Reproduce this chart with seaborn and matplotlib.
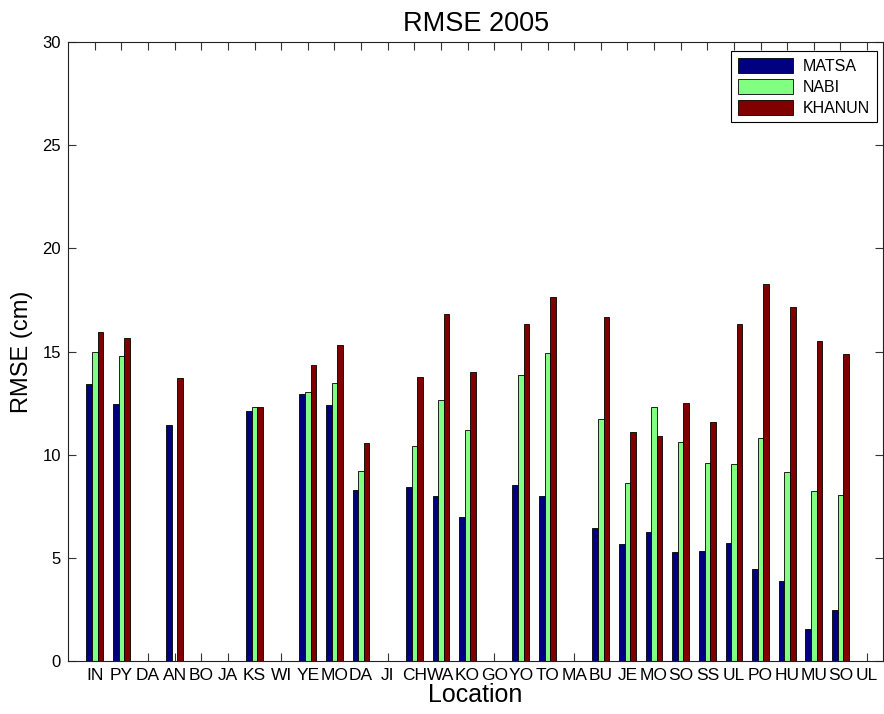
import numpy as np
import pandas as pd
import matplotlib
matplotlib.use("Agg")
import matplotlib.pyplot as plt
import seaborn as sns
from matplotlib.patches import Patch

nan = np.nan

# station labels along the x axis
locations = ["IN", "PY", "DA", "AN", "BO", "JA", "KS", "WI", "YE", "MO",
             "DA", "JI", "CH", "WA", "KO", "GO", "YO", "TO", "MA", "BU",
             "JE", "MO", "SO", "SS", "UL", "PO", "HU", "MU", "SO", "UL"]
storms = ["MATSA", "NABI", "KHANUN"]

# RMSE (cm) per station
matsa = [13.43, 12.46, nan, 11.44, nan, nan, 12.13, nan, 12.94, 12.41,
         8.29, nan, 8.45, 8.0, 6.97, nan, 8.53, 8.0, nan, 6.46,
         5.68, 6.24, 5.3, 5.35, 5.71, 4.48, 3.88, 1.56, 2.48, nan]
nabi = [15.0, 14.78, nan, nan, nan, nan, 12.33, nan, 13.03, 13.48,
        9.22, nan, 10.43, 12.64, 11.21, nan, 13.87, 14.92, nan, 11.74,
        8.65, 12.33, 10.61, 9.59, 9.55, 10.8, 9.18, 8.24, 8.03, nan]
khanun = [15.95, 15.67, nan, 13.72, nan, nan, 12.3, nan, 14.37, 15.33,
          10.57, nan, 13.76, 16.82, 14.03, nan, 16.34, 17.63, nan, 16.69,
          11.1, 10.93, 12.52, 11.58, 16.32, 18.3, 17.14, 15.51, 14.89, nan]

colors = ["#000080", "#80FF80", "#800000"]

idx = list(range(len(locations)))
df = pd.DataFrame({
    "idx": idx * 3,
    "storm": [s for s in storms for _ in idx],
    "rmse": matsa + nabi + khanun,
}).dropna()

sns.set_style("ticks")
plt.rcParams["font.family"] = ["Liberation Sans", "DejaVu Sans"]
plt.rcParams["text.color"] = "black"
plt.rcParams["axes.labelcolor"] = "black"
plt.rcParams["xtick.color"] = "black"
plt.rcParams["ytick.color"] = "black"

fig = plt.figure(figsize=(8.84, 7.14), dpi=100)
ax = fig.add_axes([0.077, 0.074, 0.922, 0.867])

sns.barplot(data=df, x="idx", y="rmse", hue="storm", order=idx,
            hue_order=storms, palette=colors, saturation=1, width=0.63,
            edgecolor="black", linewidth=0.6, errorbar=None, ax=ax)

ax.set_xlim(-1, 29.6)
ax.set_ylim(0, 30)
ax.set_yticks(range(0, 31, 5))
ax.set_xticks(idx)
ax.set_xticklabels(locations, fontsize=12.5)
ax.tick_params(axis="y", labelsize=12)
ax.tick_params(direction="in", length=6, width=0.8, top=True, right=True,
               color="#333333", pad=5)
for sp in ax.spines.values():
    sp.set_visible(True)
    sp.set_linewidth(0.8)
    sp.set_color("#222222")

ax.set_title("RMSE 2005", fontsize=19.5, pad=8)
ax.set_xlabel("Location", fontsize=18, labelpad=0)
ax.set_ylabel("RMSE (cm)", fontsize=17, labelpad=7)

handles = [Patch(facecolor=c, edgecolor="black", linewidth=0.6) for c in colors]
leg = ax.legend(handles, storms, loc="upper right", bbox_to_anchor=(0.992, 0.985),
                borderaxespad=0, fontsize=11.5, handlelength=3.5, handleheight=1.1,
                handletextpad=0.6, labelspacing=0.3, fancybox=False, framealpha=1,
                edgecolor="black")
leg.get_frame().set_linewidth(0.8)

fig.savefig("out.png", dpi=100)
